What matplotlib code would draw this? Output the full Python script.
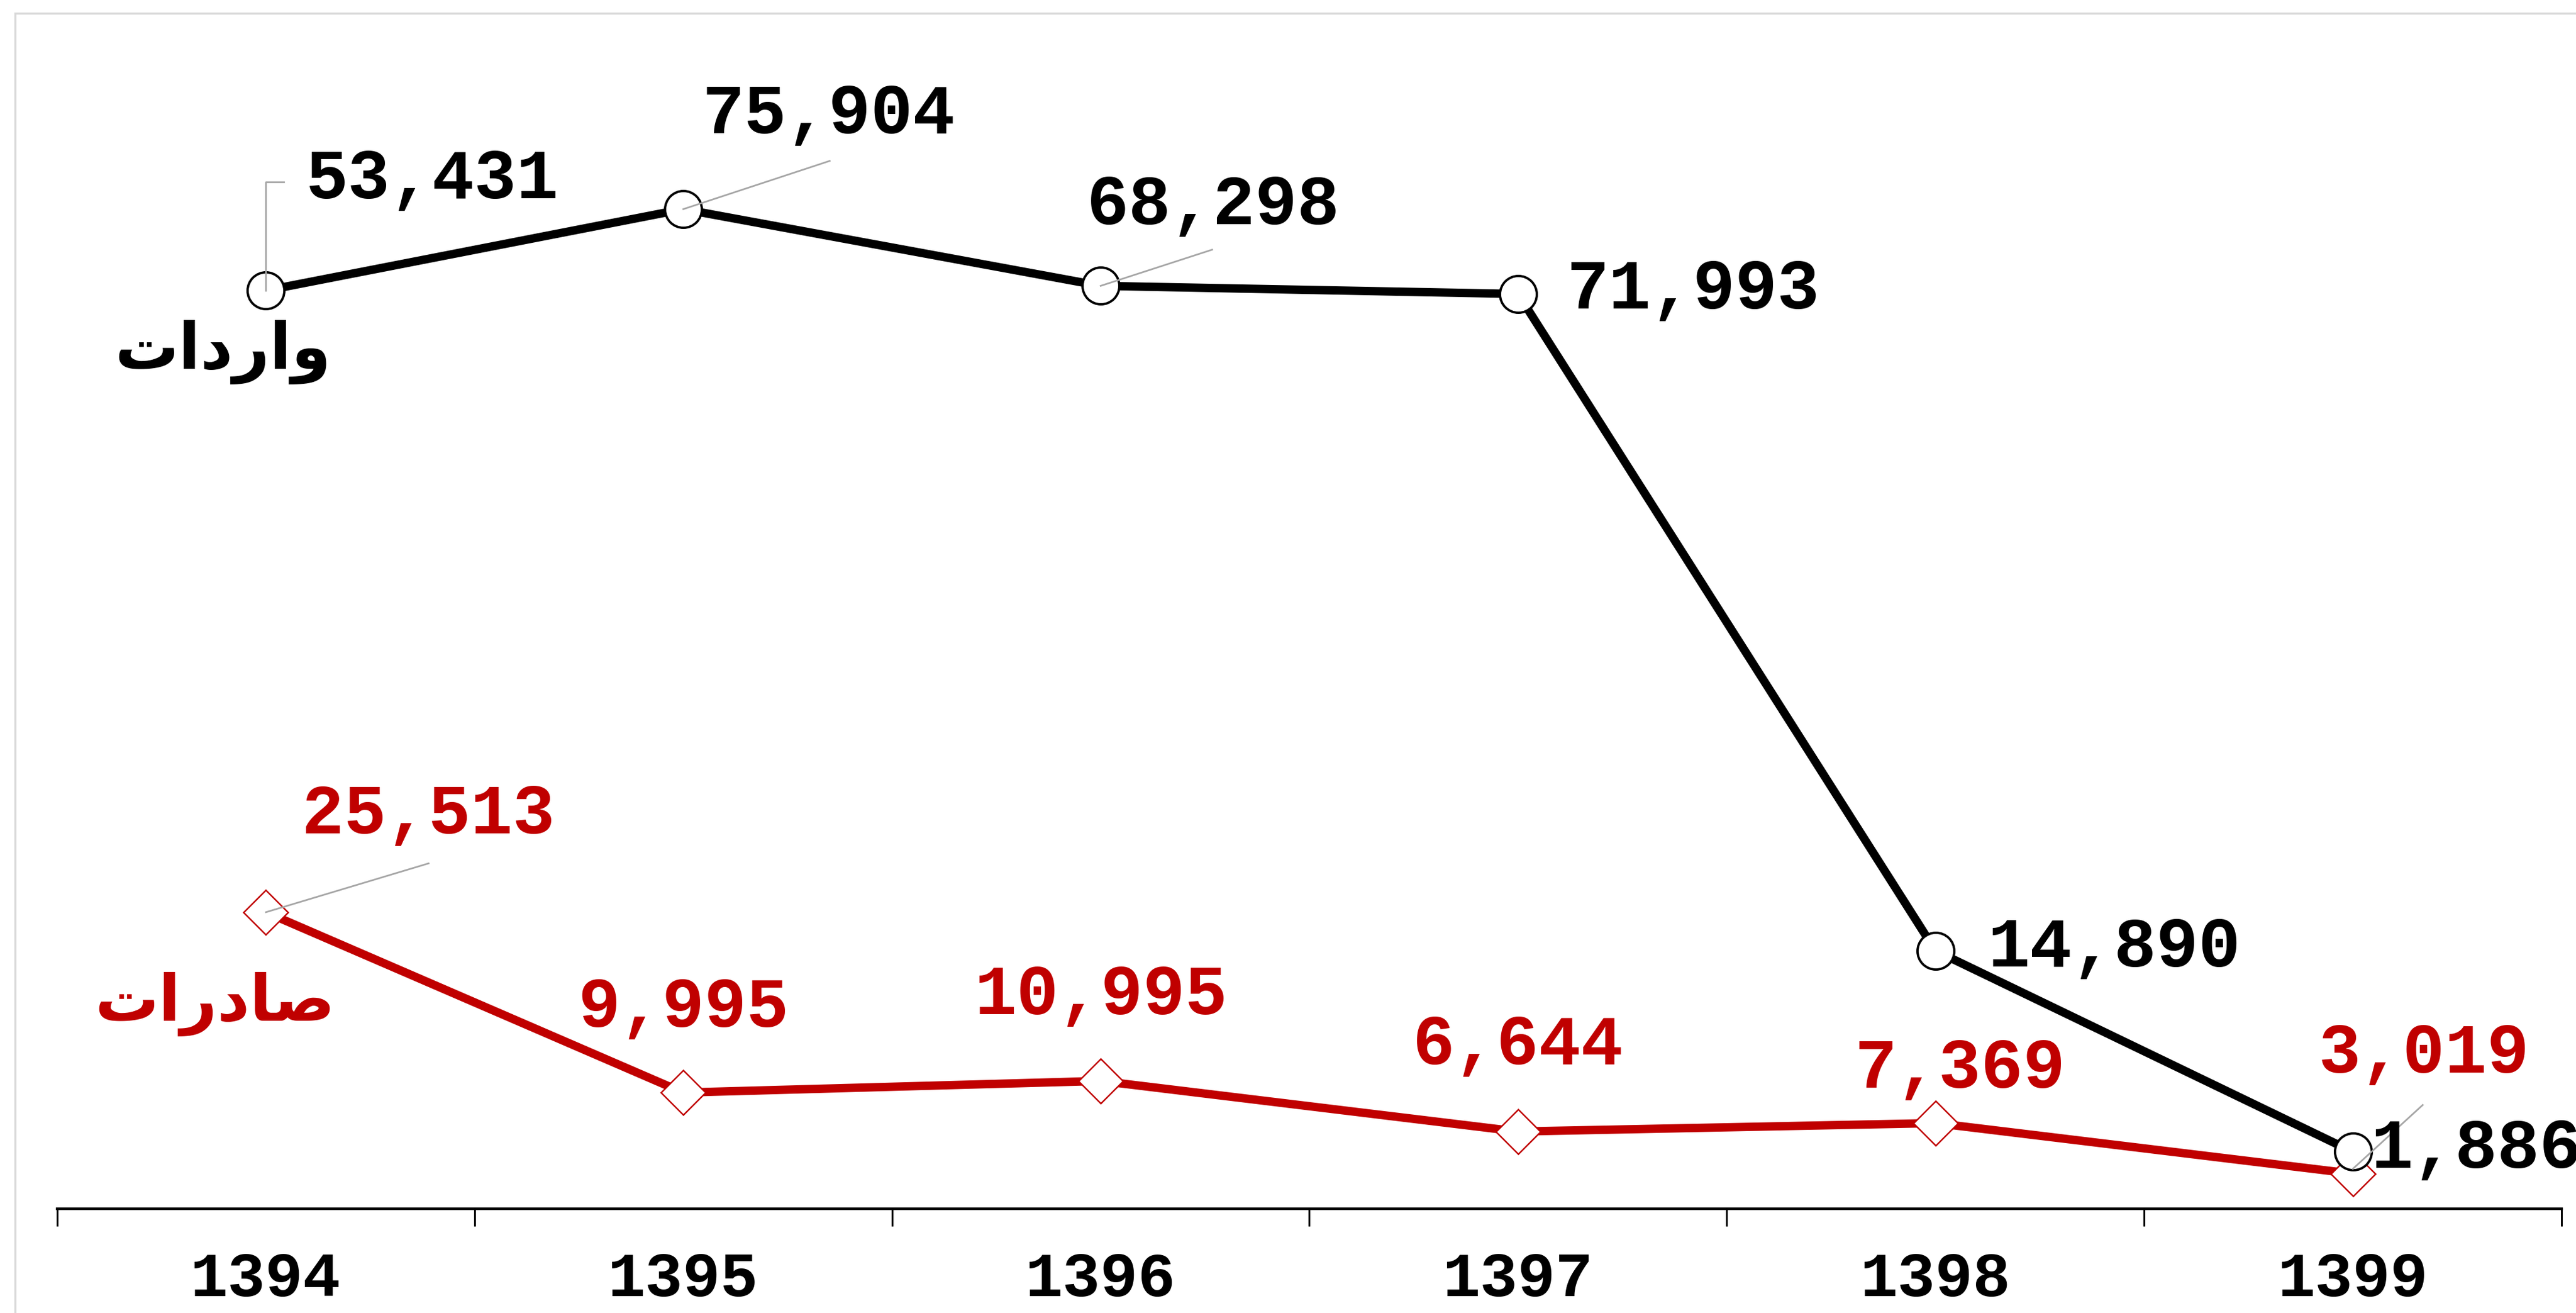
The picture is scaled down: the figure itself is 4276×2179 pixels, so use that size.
import numpy as np
import matplotlib
matplotlib.use("Agg")
import matplotlib.pyplot as plt
from matplotlib.patches import Rectangle
from matplotlib.transforms import IdentityTransform

years = ["1394", "1395", "1396", "1397", "1398", "1399"]

# imports: where the points sit on the chart, and the numbers written next to them
imports_plot = [79000, 86000, 79400, 78700, 22200, 4900]
imports_labels = ["53,431", "75,904", "68,298", "71,993", "14,890", "1,886"]

exports = [25513, 9995, 10995, 6644, 7369, 3019]
exports_labels = ["25,513", "9,995", "10,995", "6,644", "7,369", "3,019"]

# Persian series names, stored in visual (shaped, left-to-right) order
imports_name = "\u062A\u0627\u062F\u0631\u0627\u0648"        # واردات
exports_name = "\u062A\u0627\u0631\u062F\uFE8E\uFEBB"        # صادرات

RED = "#C00000"
GREY = "#a6a6a6"
W, H = 4276, 2179

fig = plt.figure(figsize=(W / 100, H / 100), dpi=100)
ax_left, ax_right, ax_bottom, ax_top = 95, 4252, 2006, 77
ax = fig.add_axes([ax_left / W, (H - ax_bottom) / H,
                   (ax_right - ax_left) / W, (ax_bottom - ax_top) / H])

x = np.arange(len(years))
ax.set_xlim(-0.5, len(years) - 0.5)
ax.set_ylim(0, 100000)

ax.plot(x, exports, color=RED, lw=10, marker="D", ms=38, mfc="white",
        mec=RED, mew=1.8, zorder=3)
ax.plot(x, imports_plot, color="black", lw=10, marker="o", ms=44, mfc="white",
        mec="black", mew=2.8, zorder=4)

for s in ["top", "left", "right"]:
    ax.spines[s].set_visible(False)
ax.spines["bottom"].set_linewidth(3.2)
ax.set_yticks([])
ax.set_xticks([])
ax.set_xticks(np.arange(-0.5, len(years)), minor=True)
ax.tick_params(axis="x", which="minor", length=21, width=2.2, color="black",
               direction="out", labelbottom=False)
ax.set_facecolor("none")

num_font = dict(family="Liberation Mono", weight="bold")
for i, yr in enumerate(years):
    ax.text(i, -(2125 - ax_bottom) / (ax_bottom - ax_top), yr,
            transform=ax.get_xaxis_transform(), ha="center", va="center",
            fontsize=75, color="black", **num_font)

# label offsets from the point, in pixels (x right, y up), and anchoring
imp_off = [(276, 184), (241, 157), (187, 133), (81, 6), (86, 4), (30, 4)]
imp_ha = ["center", "center", "center", "left", "left", "left"]
exp_off = [(270, 161), (0, 140), (0, 141), (0, 142), (41, 89), (118, 198)]

for i in range(len(years)):
    ax.annotate(imports_labels[i], (x[i], imports_plot[i]), xytext=imp_off[i],
                textcoords="offset pixels", ha=imp_ha[i], va="center",
                fontsize=84, color="black", zorder=6, annotation_clip=False,
                **num_font)
    ax.annotate(exports_labels[i], (x[i], exports[i]), xytext=exp_off[i],
                textcoords="offset pixels", ha="center", va="center",
                fontsize=84, color=RED, zorder=6, annotation_clip=False,
                **num_font)

# leader lines (pixel offsets from the point)
leaders = [
    (0, imports_plot[0], [(0, 0), (0, 180), (30, 180)]),
    (1, imports_plot[1], [(0, 0), (243, 80)]),
    (2, imports_plot[2], [(0, 0), (185, 60)]),
    (0, exports[0], [(0, 0), (270, 81)]),
    (5, exports[5], [(0, 8), (116, 114)]),
]
fig.canvas.draw()
for xi, yv, offs in leaders:
    px, py = ax.transData.transform((x[xi], yv))
    xs = [px + o[0] for o in offs]
    ys = [py + o[1] for o in offs]
    ax.plot(xs, ys, color=GREY, lw=2, transform=IdentityTransform(),
            zorder=5, clip_on=False)

ax.annotate(imports_name, (x[0], imports_plot[0]), xytext=(-72, -102),
            textcoords="offset pixels", ha="center", va="center",
            fontsize=76, fontweight="bold", family="DejaVu Sans",
            color="black", annotation_clip=False)
ax.annotate(exports_name, (x[0], exports[0]), xytext=(-85, -153),
            textcoords="offset pixels", ha="center", va="center",
            fontsize=76, fontweight="bold", family="DejaVu Sans",
            color=RED, annotation_clip=False)

# light frame around the chart area
fig.add_artist(Rectangle((25 / W, -0.2), 2, 1.2 - 22 / H, transform=fig.transFigure,
                         fill=False, ec="#d9d9d9", lw=2.5, zorder=0))

fig.savefig("out.png", dpi=100, facecolor="white")
